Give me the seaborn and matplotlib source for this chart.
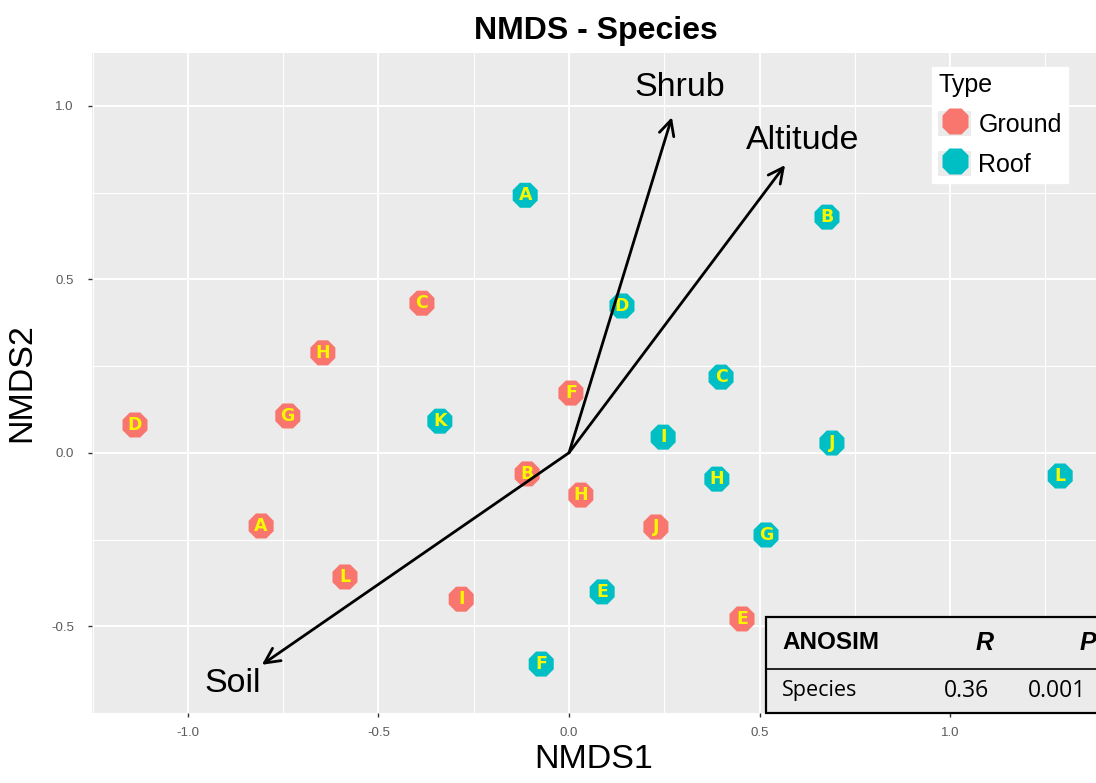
import matplotlib
matplotlib.use("Agg")
import matplotlib.pyplot as plt
import seaborn as sns
import pandas as pd
import numpy as np
from matplotlib.patches import Rectangle, Patch
from matplotlib.lines import Line2D

# ---- data ----
ground_labels = ["A", "B", "C", "D", "E", "F", "G", "H", "H", "I", "J", "L"]
ground_x = [-0.808, -0.110, -0.386, -1.139, 0.454, 0.005, -0.738, -0.646, 0.031, -0.283, 0.228, -0.588]
ground_y = [-0.211, -0.061, 0.431, 0.080, -0.479, 0.172, 0.106, 0.288, -0.122, -0.422, -0.214, -0.358]

roof_labels = ["A", "B", "C", "D", "E", "F", "G", "H", "I", "J", "K", "L"]
roof_x = [-0.115, 0.677, 0.399, 0.139, 0.087, -0.073, 0.517, 0.388, 0.247, 0.690, -0.339, 1.289]
roof_y = [0.742, 0.679, 0.218, 0.423, -0.401, -0.609, -0.237, -0.076, 0.045, 0.028, 0.091, -0.067]

vec_names = ["Shrub", "Altitude", "Soil"]
vec_x = [0.270, 0.567, -0.806]
vec_y = [0.967, 0.829, -0.611]
vec_label_x = [0.291, 0.614, -0.882]
vec_label_y = [1.054, 0.901, -0.665]

types = ["Ground", "Roof"]
type_colors = ["#F8766D", "#00BFC4"]

anosim_header = ["ANOSIM", "R", "P"]
anosim_row = ["Species", "0.36", "0.001"]

xticks = [-1.0, -0.5, 0.0, 0.5, 1.0]
yticks = [-0.5, 0.0, 0.5, 1.0]

df = pd.DataFrame({
    "NMDS1": ground_x + roof_x,
    "NMDS2": ground_y + roof_y,
    "Type": ["Ground"] * len(ground_x) + ["Roof"] * len(roof_x),
    "Site": ground_labels + roof_labels,
})

# ---- style ----
sns.set_theme(style="darkgrid")
plt.rcParams["font.family"] = ["Liberation Sans", "DejaVu Sans"]
plt.rcParams["axes.unicode_minus"] = False
plt.rcParams["text.color"] = "black"
plt.rcParams["axes.labelcolor"] = "black"

fig = plt.figure(figsize=(10.96, 7.83), dpi=100)
ax = fig.add_axes([0.0839, 0.0894, 0.9161, 0.8429])
ax.set_facecolor("#EBEBEB")
for s in ax.spines.values():
    s.set_visible(False)

xlim = (-1.252, 1.383)
ylim = (-0.750, 1.152)

sns.scatterplot(data=df, x="NMDS1", y="NMDS2", hue="Type", hue_order=types,
                palette=type_colors, marker="8", s=380, linewidth=0,
                ax=ax, zorder=3, legend=False)

for _, r in df.iterrows():
    ax.text(r["NMDS1"], r["NMDS2"], r["Site"], color="#F7F700", fontsize=12.5,
            fontweight="bold", ha="center", va="center", zorder=4,
            family=["DejaVu Sans"])

for name, vx, vy, lx, ly in zip(vec_names, vec_x, vec_y, vec_label_x, vec_label_y):
    ax.annotate("", xy=(vx, vy), xytext=(0, 0),
                arrowprops=dict(arrowstyle="->,head_length=0.9,head_width=0.45",
                                color="black", lw=2.0, shrinkA=0, shrinkB=0),
                zorder=5)
    ax.text(lx, ly, name, fontsize=24.5, ha="center", va="center", color="black", zorder=5)

ax.set_xlim(*xlim)
ax.set_ylim(*ylim)
ax.set_xticks(xticks)
ax.set_xticklabels([f"{t:.1f}" for t in xticks])
ax.set_yticks(yticks)
ax.set_yticklabels([f"{t:.1f}" for t in yticks])
ax.set_xticks(np.arange(-1.25, 1.4, 0.5), minor=True)
ax.set_yticks(np.arange(-0.75, 1.2, 0.5), minor=True)
ax.grid(which="major", color="white", lw=1.4)
ax.grid(which="minor", color="white", lw=0.8)
ax.set_axisbelow(True)
ax.tick_params(axis="x", which="major", length=3, width=1, color="#333333", labelsize=9.5,
               labelcolor="#5A5A5A", pad=7, bottom=True)
ax.tick_params(axis="y", which="major", length=3, width=1, color="#333333", labelsize=9.5,
               labelcolor="#5A5A5A", pad=10, left=True)
ax.tick_params(which="minor", length=0)

ax.set_xlabel("NMDS1", fontsize=24.5, labelpad=4)
ax.set_ylabel("NMDS2", fontsize=24.5, labelpad=10)
fig.suptitle("NMDS - Species", fontsize=23, fontweight="bold", x=0.544, y=0.98)

# ---- legend ----
handles = [(Patch(facecolor="#EBEBEB", edgecolor="none"),
            Line2D([0], [0], marker="8", color="none", markerfacecolor=c,
                   markeredgecolor="none", markersize=21)) for c in type_colors]
leg = ax.legend(handles, types, title="Type", loc="upper left",
                bbox_to_anchor=(0.8367, 0.979), fontsize=18, title_fontsize=18,
                frameon=True, fancybox=False, borderpad=0.25, handletextpad=0.3,
                labelspacing=0.55, handlelength=1.3, handleheight=1.2, borderaxespad=0)
leg.get_frame().set_facecolor("white")
leg.get_frame().set_edgecolor("white")
leg.get_frame().set_alpha(1)
leg._legend_box.align = "left"

# ---- ANOSIM table (axes-fraction coordinates) ----
tx0, tx1 = 0.671, 1.05
ty0, ty1, tmid = 0.0, 0.1455, 0.0667
ax.add_patch(Rectangle((tx0, ty0), tx1 - tx0, ty1 - ty0, transform=ax.transAxes,
                       facecolor="#EBEBEB", edgecolor="black", lw=1.6, zorder=6,
                       clip_on=False))
ax.plot([tx0, tx1], [tmid, tmid], transform=ax.transAxes, color="black", lw=1.2,
        zorder=7, clip_on=False)
hy = (ty1 + tmid) / 2
ry = (tmid + ty0) / 2
ax.text(0.6875, hy, anosim_header[0], transform=ax.transAxes, fontsize=17.5,
        fontweight="bold", ha="left", va="center", zorder=8)
ax.text(0.889, hy, anosim_header[1], transform=ax.transAxes, fontsize=18,
        fontweight="bold", fontstyle="italic", ha="center", va="center", zorder=8)
ax.text(0.992, hy, anosim_header[2], transform=ax.transAxes, fontsize=18,
        fontweight="bold", fontstyle="italic", ha="center", va="center", zorder=8)
ax.text(0.6875, ry, anosim_row[0], transform=ax.transAxes, fontsize=15.5,
        ha="left", va="center", zorder=8, family=["Open Sans", "DejaVu Sans"])
ax.text(0.8715, ry, anosim_row[1], transform=ax.transAxes, fontsize=16.5,
        ha="center", va="center", zorder=8, family=["Open Sans", "DejaVu Sans"])
ax.text(0.961, ry, anosim_row[2], transform=ax.transAxes, fontsize=16.5,
        ha="center", va="center", zorder=8, family=["Open Sans", "DejaVu Sans"])

fig.savefig("out.png", dpi=100)
